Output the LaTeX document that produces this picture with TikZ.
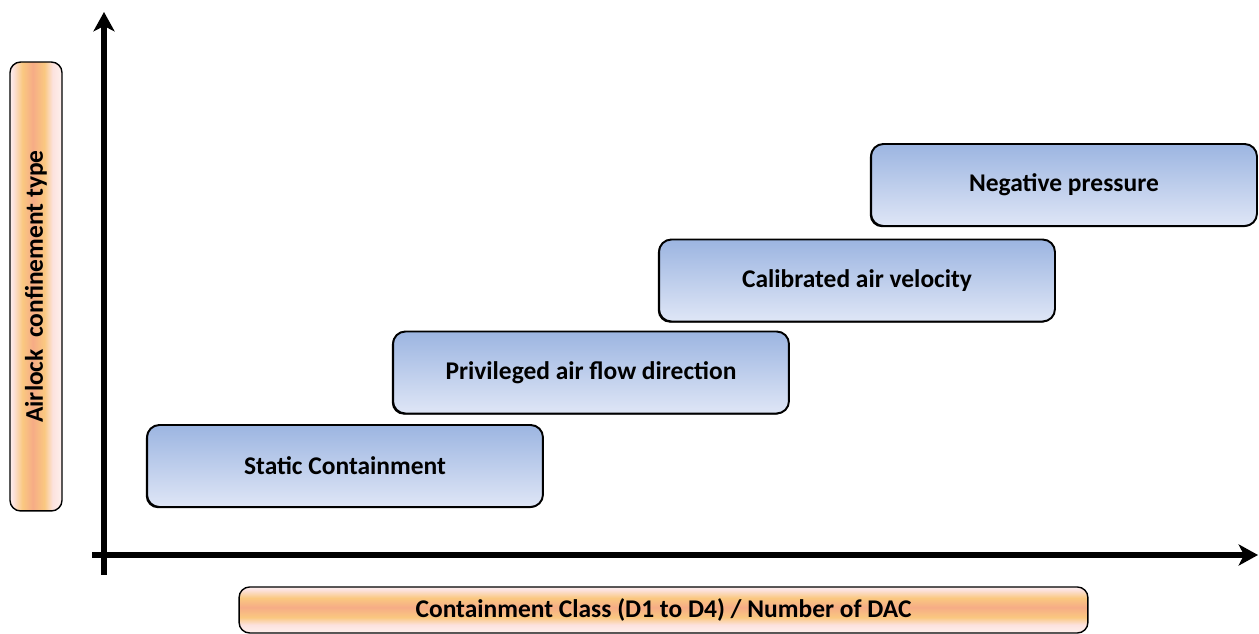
\documentclass[tikz,border=0pt]{standalone}
\usepackage{fontspec}
\setmainfont{Carlito}
\usepackage{tikz}
\usetikzlibrary{arrows.meta,positioning,shadows}

\definecolor{stagetop}{RGB}{156,181,225}
\definecolor{stagebot}{RGB}{223,230,246}
\definecolor{barpale}{RGB}{254,240,238}
\definecolor{barpink}{RGB}{252,226,222}
\definecolor{barsalmon}{RGB}{246,172,134}
\definecolor{barorange}{RGB}{250,200,128}
\pgfdeclareverticalshading{barshade}{100bp}{color(0bp)=(barpale); color(25bp)=(barpale); color(34bp)=(barpink); color(42bp)=(barorange); color(53bp)=(barsalmon); color(63bp)=(barorange); color(72bp)=(barpink); color(75bp)=(barpale); color(100bp)=(barpale)}

\begin{document}
\begin{tikzpicture}[x=0.02cm, y=-0.02cm, every node/.style={font=\bfseries\fontsize{14.5}{17}\selectfont},
    stagebox/.style={draw, line width=1.1pt, rounded corners=7pt, top color=stagetop, bottom color=stagebot,
        minimum width=7.92cm, minimum height=1.64cm,
        drop shadow={shadow xshift=-0.7pt, shadow yshift=-0.7pt, fill=black, opacity=1}},
    axisbar/.style={draw, line width=0.8pt, rounded corners=6pt, shading=barshade},
    axisline/.style={line width=3.4pt, -{Stealth[length=11pt, width=12pt, inset=3pt]}}]
    \useasboundingbox (0,0) rectangle (1259,634);

    \node[stagebox] (static) at (345,466) {Static Containment};
    \node[stagebox] (privileged) at (591,372.5) {Privileged air flow direction};
    \node[stagebox] (calibrated) at (857,280.5) {Calibrated air velocity};
    \node[stagebox, minimum width=7.72cm] (negative) at (1064,185) {Negative pressure};

    \node[axisbar, shading angle=90, rotate=90, minimum width=8.98cm, minimum height=1.04cm] (ylabel) at (36,286.5) {Airlock~ confinement type};
    \node[axisbar, minimum width=16.98cm, minimum height=0.92cm] (xlabel) at (663.5,610) {Containment Class (D1 to D4) / Number of DAC};

    \coordinate (ybase) at (104,575);
    \coordinate (ytip) at (104,12);
    \coordinate (xbase) at (92,555);
    \coordinate (xtip) at (1258,555);
    \draw[axisline] (ybase) -- (ytip);
    \draw[axisline] (xbase) -- (xtip);
\end{tikzpicture}
\end{document}
